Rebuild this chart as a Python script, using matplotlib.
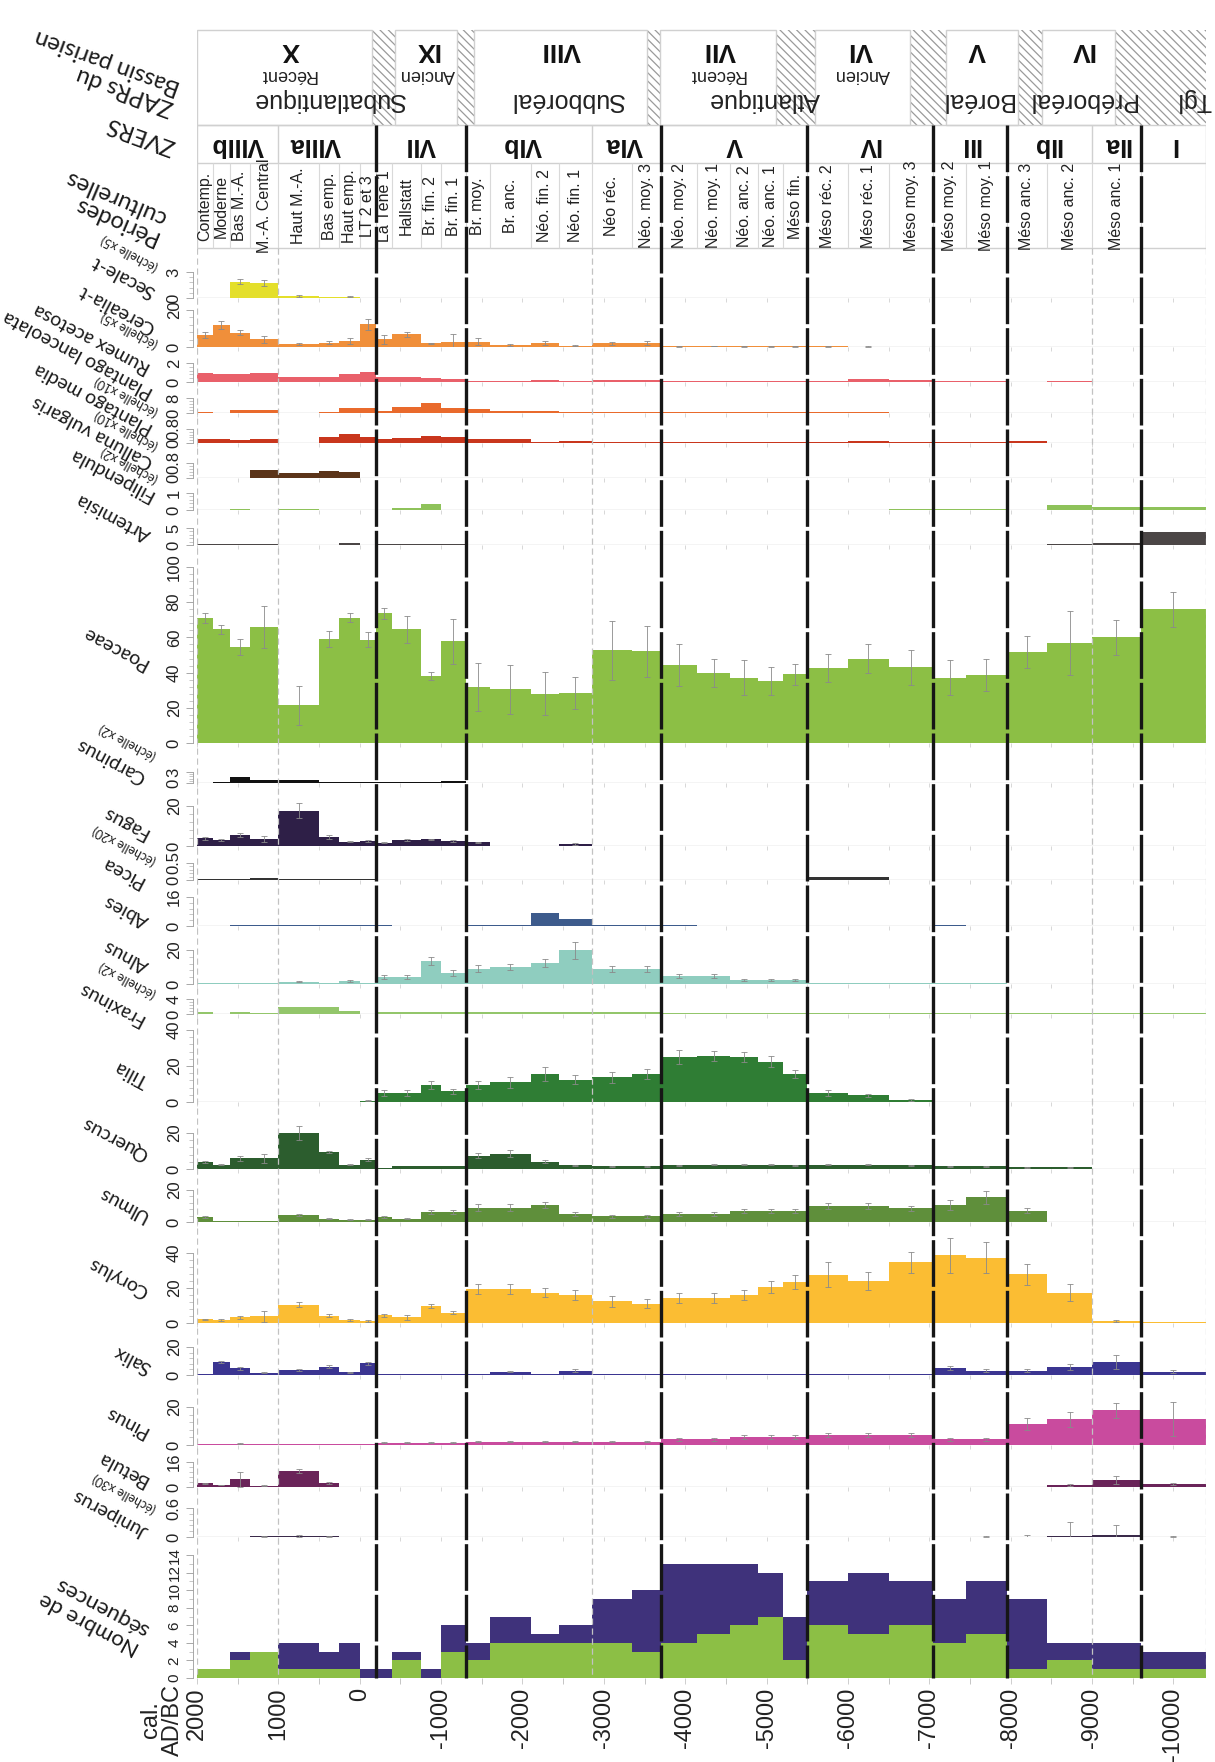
import matplotlib.pyplot as plt
from matplotlib.patches import Rectangle
import numpy as np

plt.rcParams['font.family'] = ['Liberation Sans', 'DejaVu Sans']
plt.rcParams['axes.unicode_minus'] = False
plt.rcParams['hatch.linewidth'] = 0.9
plt.rcParams['hatch.color'] = '#9a9a9a'

# ---- time bins (cal. AD/BC) and header data ----
edges = [2000, 1800, 1600, 1350, 1000, 500, 250, 0, -200, -400, -750, -1000, -1300,
         -1600, -2100, -2450, -2850, -3350, -3700, -4150, -4550, -4900, -5200, -5500,
         -6000, -6500, -7050, -7450, -7950, -8450, -9000, -9600, -10400]
periods = ['Contemp.', 'Moderne', 'Bas M.-A.', 'M.-A. Central', 'Haut M.-A.', 'Bas emp.',
           'Haut emp.', 'LT 2 et 3', 'La Tène 1', 'Hallstatt', 'Br. fin. 2', 'Br. fin. 1',
           'Br. moy.', 'Br. anc.', 'Néo. fin. 2', 'Néo. fin. 1', 'Néo réc.', 'Néo. moy. 3',
           'Néo. moy. 2', 'Néo. moy. 1', 'Néo. anc. 2', 'Néo. anc. 1', 'Méso fin.',
           'Méso réc. 2', 'Méso réc. 1', 'Méso moy. 3', 'Méso moy. 2', 'Méso moy. 1',
           'Méso anc. 3', 'Méso anc. 2', 'Méso anc. 1', '']
zvers = ['VIIIb', 'VIIIa', 'VII', 'VIb', 'VIa', 'V', 'IV', 'III', 'IIb', 'IIa', 'I']
zvers_pos = [1500, 550, -750, -2000, -3250, -4600, -6250, -7500, -8450, -9300, -10000]
zaprs = ['X', 'IX', 'VIII', 'VII', 'VI', 'V', 'IV']
zaprs_box = [(2000, -150), (-430, -1200), (-1400, -3530), (-3690, -5120),
             (-5590, -6760), (-7200, -8090), (-8390, -9280)]
zaprs_pos = [850, -830, -2480, -4420, -6150, -7580, -8870]
zaprs_sub = [('Récent', 880), ('Ancien', -830), ('Récent', -4390), ('Ancien', -6180)]
climate = [('Subatlantique', 380), ('Subboréal', -2550), ('Atlantique', -4970),
           ('Boréal', -7580), ('Préboréal', -8870), ('Tgl', -10260)]
black_lines = [-200, -1300, -3700, -5500, -7050, -7950, -9600]
gray_lines = [2000, 1000, -2850, -9000, -10400]

# ---- pollen values per bin ----
secale = [0, 0, 1.9, 1.7, 0.27, 0.15, 0.15, 0, 0, 0, 0, 0, 0, 0, 0, 0,
          0, 0, 0, 0, 0, 0, 0, 0, 0, 0, 0, 0, 0, 0, 0, 0]
secale_err = [0, 0, 0.25, 0.35, 0.12, 0, 0.05, 0, 0, 0, 0, 0, 0, 0, 0, 0,
              0, 0, 0, 0, 0, 0, 0, 0, 0, 0, 0, 0, 0, 0, 0, 0]
cerealia = [6.5, 11.9, 7.7, 4.1, 1.6, 2.3, 3.2, 12.4, 4.1, 6.8, 2.0, 2.9, 2.9, 1.0, 2.0, 0.8,
            2.0, 2.0, 0.5, 0.5, 0.5, 0.4, 0.4, 0.5, 0.2, 0, 0, 0, 0, 0, 0, 0]
cerealia_err = [1.6, 2.2, 1.4, 1.8, 0.5, 0.8, 1.5, 3.0, 2.3, 1.3, 0.3, 4.1, 1.7, 0.4, 1.0, 0.3,
                0.9, 1.0, 0.3, 0.2, 0.3, 0.2, 0.2, 0.3, 0.2, 0, 0, 0, 0, 0, 0, 0]
rumex = [0.98, 0.84, 0.84, 0.9, 0.56, 0.5, 0.84, 1.1, 0.56, 0.56, 0.39, 0.35, 0.14, 0.14, 0.25, 0.1,
         0.25, 0.25, 0.14, 0.15, 0.15, 0.15, 0.15, 0.15, 0.35, 0.2, 0.15, 0.15, 0.05, 0.1, 0.03, 0.03]
plantago_l = [0.7, 0.1, 1.6, 1.6, 0.2, 0.4, 2.5, 2.5, 1.1, 3.4, 5.5, 2.5, 2.1, 1.1, 1.1, 0.4,
              0.4, 0.4, 0.5, 0.8, 0.5, 0.5, 0.4, 0.3, 0.8, 0.2, 0.1, 0.1, 0.05, 0, 0, 0]
plantago_m = [0.21, 0.21, 0.17, 0.23, 0.02, 0.33, 0.51, 0.33, 0.23, 0.29, 0.42, 0.33, 0.23, 0.23, 0.06, 0.11,
              0.07, 0.07, 0.04, 0.06, 0.06, 0.06, 0.06, 0.06, 0.11, 0.06, 0.03, 0.03, 0.14, 0.02, 0.02, 0.02]
calluna = [0, 0, 0, 0.43, 0.25, 0.39, 0.34, 0, 0, 0, 0, 0, 0, 0, 0, 0,
           0, 0, 0, 0, 0, 0, 0, 0, 0, 0, 0, 0, 0, 0, 0, 0]
filipendula = [0.02, 0.02, 0.06, 0.02, 0.06, 0.02, 0.02, 0.02, 0, 0.1, 0.35, 0.02, 0, 0, 0, 0.02,
               0, 0, 0, 0.02, 0.02, 0, 0, 0, 0, 0.03, 0.03, 0.03, 0.02, 0.3, 0.2, 0.2]
artemisia = [0.15, 0.15, 0.15, 0.15, 0.1, 0.1, 0.7, 0.1, 0.3, 0.3, 0.3, 0.3, 0.1, 0.1, 0.1, 0.1,
             0.1, 0.1, 0.1, 0.1, 0.1, 0.1, 0.1, 0.1, 0.1, 0.1, 0.1, 0.1, 0.1, 0.3, 0.7, 3.7]
poaceae = [71, 64.5, 54.6, 65.7, 21.4, 59.2, 71.2, 58.8, 73.6, 64.5, 38, 57.7, 31.9, 30.5, 28.1, 28.5,
           52.6, 52, 44.4, 40, 37, 35, 39, 42.6, 48, 43, 37, 38.7, 51.6, 56.8, 60, 76]
poaceae_err = [2.8, 2.4, 4.7, 12, 11, 4.7, 2.6, 4.3, 3, 7.8, 2.4, 13, 13.7, 14, 12, 9,
               16.6, 14.6, 11.8, 8, 10, 8, 6, 8, 8, 10, 10, 9, 9, 18, 10, 10]
carpinus = [0, 0.35, 1.7, 0.8, 0.9, 0.2, 0.2, 0.2, 0.27, 0.27, 0.27, 0.46, 0.08, 0.08, 0.08, 0.08,
            0.08, 0.08, 0.08, 0.08, 0.08, 0.08, 0.08, 0.03, 0.03, 0.03, 0.03, 0.03, 0.03, 0.03, 0.03, 0.03]
fagus = [3.9, 3, 5.5, 3.5, 17.7, 4.4, 2.2, 2.5, 1.7, 3, 3.4, 2.7, 1.9, 0.15, 0.15, 1.0,
         0.15, 0.15, 0.1, 0.1, 0.1, 0.1, 0.1, 0.1, 0.05, 0.05, 0.05, 0.05, 0.05, 0.05, 0.05, 0.05]
fagus_err = [0.8, 0.4, 0.8, 1.7, 3.9, 1.0, 0.3, 0.5, 0.2, 0.3, 0.3, 0.5, 0.3, 0, 0, 0.3,
             0, 0, 0, 0, 0, 0, 0, 0, 0, 0, 0, 0, 0, 0, 0, 0]
picea = [0.015, 0.015, 0.015, 0.06, 0.015, 0.015, 0.015, 0.015, 0, 0, 0, 0, 0, 0, 0, 0,
         0, 0, 0, 0, 0, 0, 0, 0.08, 0.08, 0, 0, 0, 0, 0, 0, 0]
abies = [0, 0, 0.3, 0.3, 0.3, 0.3, 0.3, 0.3, 0.3, 0.2, 0.2, 0.2, 0.3, 0.3, 7.2, 3.9,
         0.5, 0.8, 0.3, 0.2, 0.2, 0.2, 0.2, 0.2, 0.2, 0.2, 0.3, 0.2, 0.1, 0, 0, 0]
alnus = [0.3, 0.3, 0.3, 0.3, 1.2, 0.3, 1.8, 0.3, 4.1, 4.1, 13.5, 6.5, 9, 10, 12.4, 20,
         8.8, 8.8, 4.7, 4.7, 2.4, 2.4, 2.4, 0.3, 0.3, 0.3, 0.3, 0.3, 0.2, 0.2, 0.2, 0.2]
alnus_err = [0, 0, 0, 0, 0.3, 0, 0.4, 0, 1.0, 1.0, 2.5, 1.5, 2.0, 2.0, 2.5, 5.0,
             2.0, 2.0, 1.0, 1.0, 0.6, 0.6, 0.6, 0, 0, 0, 0, 0, 0, 0, 0, 0]
fraxinus = [0.4, 0.1, 0.5, 0.15, 1.95, 1.95, 0.8, 0.1, 0.5, 0.5, 0.5, 0.5, 0.5, 0.5, 0.5, 0.5,
            0.5, 0.5, 0.3, 0.3, 0.3, 0.3, 0.3, 0.15, 0.15, 0.15, 0.15, 0.15, 0.15, 0.15, 0.15, 0.15]
tilia = [0.15, 0.15, 0.15, 0.15, 0.15, 0.15, 0.15, 0.6, 5, 5, 9.4, 6, 9.4, 11, 15.6, 12.5,
         13.8, 15.6, 25, 25.6, 25, 22.5, 15.6, 5, 3.7, 1.2, 0, 0, 0, 0, 0, 0]
tilia_err = [0, 0, 0, 0, 0, 0, 0, 0.3, 1.5, 1.5, 2.0, 1.5, 2.0, 3.0, 4.0, 2.5,
             3.0, 3.0, 4.0, 3.0, 3.0, 3.0, 2.0, 1.5, 1.0, 0.5, 0, 0, 0, 0, 0, 0]
quercus = [4, 2.4, 6, 6, 20, 9.3, 2.4, 5.2, 0.6, 1.5, 1.5, 1.5, 7.5, 8.5, 4, 2,
           1.5, 1.5, 2, 2.5, 2.5, 2.5, 2, 2.5, 2.5, 2, 1.5, 1.5, 1, 1, 0, 0]
quercus_err = [0.6, 0.3, 1.4, 2.6, 3.8, 0.6, 0.4, 0.8, 0, 0, 0, 0, 1.5, 2.0, 0.8, 0.5,
               0.4, 0.4, 0.5, 0.5, 0.5, 0.5, 0.5, 0.5, 0.5, 0.5, 0.4, 0.4, 0.3, 0.3, 0, 0]
ulmus = [2.9, 0.6, 0.6, 0.6, 4.4, 2, 1.5, 1.5, 3.1, 2, 6, 6, 9, 9, 10.5, 5,
         3.5, 3.5, 5, 5, 7, 7, 7, 9.8, 9.8, 8.5, 10.5, 15.4, 7, 0, 0, 0]
ulmus_err = [0.6, 0, 0, 0, 0.6, 0.4, 0.4, 0.4, 0.6, 0.4, 1.2, 1.2, 2.0, 2.0, 2.0, 1.0,
             0.8, 0.8, 1.0, 1.0, 1.3, 1.3, 1.3, 1.8, 1.8, 1.6, 3.0, 4.0, 1.5, 0, 0, 0]
corylus = [2.1, 1.7, 3.2, 3.8, 10.5, 4.2, 1.9, 1, 4.5, 3.2, 9.7, 5.8, 19.4, 19.4, 17.4, 16.1,
           12.3, 11, 14.2, 14.2, 16, 20.6, 23.2, 27.7, 23.9, 34.8, 38.7, 37.4, 28, 17.4, 1.3, 0.3]
corylus_err = [0.4, 0.4, 0.8, 3.0, 1.5, 0.8, 0.5, 0.5, 0.8, 1.5, 1.3, 0.8, 3.0, 3.0, 2.5, 3.0,
               3.0, 2.5, 3.0, 3.0, 3.0, 3.5, 4.0, 7.0, 5.0, 6.0, 10.0, 9.0, 6.0, 5.0, 0.5, 0]
salix = [0.5, 9, 4.8, 1.7, 3.6, 6, 1.9, 8.3, 0.5, 0.5, 0.5, 0.5, 0.5, 2.4, 0.8, 3.2,
         0.5, 0.5, 0.5, 0.5, 0.5, 0.5, 0.5, 0.8, 0.8, 0.8, 4.8, 3.2, 3.2, 5.6, 9.6, 2.4]
salix_err = [0, 0.7, 1.2, 0.5, 0.6, 1.0, 0.4, 1.0, 0, 0, 0, 0, 0, 0.6, 0, 0.8,
             0, 0, 0, 0, 0, 0, 0, 0, 0, 0, 1.5, 1.0, 1.0, 2.0, 5.0, 1.0]
pinus = [0.3, 0.3, 0.6, 0.3, 0.3, 0.3, 0.3, 0.3, 1.2, 1.2, 1.2, 1.2, 1.8, 1.8, 1.8, 1.8,
         1.8, 1.8, 2.9, 2.9, 4.1, 4.1, 4.1, 5.3, 5.3, 5.3, 2.9, 2.9, 11, 13.5, 18.2, 13.5]
pinus_err = [0, 0, 0.3, 0, 0, 0, 0, 0, 0.3, 0.3, 0.3, 0.3, 0.4, 0.4, 0.4, 0.4,
             0.4, 0.4, 0.8, 0.8, 1.0, 1.0, 1.0, 1.2, 1.2, 1.2, 0.8, 0.8, 3.0, 4.0, 4.0, 9.0]
betula = [2.4, 1.3, 4.9, 0.8, 10.4, 2.4, 0.3, 0.3, 0.3, 0.3, 0.3, 0.3, 0.3, 0.3, 0.3, 0.3,
          0.3, 0.3, 0.3, 0.3, 0.3, 0.3, 0.3, 0.3, 0.3, 0.3, 0.3, 0.3, 0.3, 1.3, 4.3, 2.2]
betula_err = [0.4, 0.3, 5.0, 0.2, 1.2, 0.5, 0, 0, 0, 0, 0, 0, 0, 0, 0, 0,
              0, 0, 0, 0, 0, 0, 0, 0, 0, 0, 0, 0, 0, 0.6, 2.5, 0.6]
juniperus = [0, 0, 0, 0.02, 0.02, 0.02, 0, 0, 0, 0, 0, 0, 0, 0, 0, 0,
             0, 0, 0, 0, 0, 0, 0, 0, 0, 0, 0.01, 0.01, 0.01, 0.02, 0.04, 0.01]
juniperus_err = [0, 0, 0, 0.01, 0.02, 0.01, 0, 0, 0, 0, 0, 0, 0, 0, 0, 0,
                 0, 0, 0, 0, 0, 0, 0, 0, 0, 0, 0, 0.01, 0.04, 0.3, 0.2, 0.02]
seq_total = [1, 1, 3, 3, 4, 3, 4, 1, 1, 3, 1, 6, 4, 7, 5, 6,
             9, 10, 13, 13, 13, 12, 7, 11, 12, 11, 9, 11, 9, 4, 4, 3]
seq_green = [1, 1, 2, 3, 1, 1, 1, 0, 0, 2, 0, 3, 2, 4, 4, 4,
             4, 3, 4, 5, 6, 7, 2, 6, 5, 6, 4, 5, 1, 2, 1, 1]
x_ticks = list(range(2000, -10001, -1000))

# ---- layout (pixels of the 1215 x 1762 canvas) ----
W, H = 1215, 1762
XL, XR = 197, 1206
YR = (2000, -10400)

fig = plt.figure(figsize=(W / 100, H / 100), dpi=100)


def box(top, bottom):
    return [XL / W, 1 - bottom / H, (XR - XL) / W, (bottom - top) / H]


centers = [(a + b) / 2 for a, b in zip(edges[:-1], edges[1:])]
widths = [a - b for a, b in zip(edges[:-1], edges[1:])]

# name, note, values, errors, colour, top, base, major ticks, px of top tick, label xy, note xy
panels = [
    ('Secale-t', '(échelle x5)', secale, secale_err, '#e4df2b', 250, 298, [0, 3], 272, (154, 293), (157, 268)),
    ('Cerealia-t', None, cerealia, cerealia_err, '#f08f3a', 300, 347, [0, 20], 310, (154, 329), None),
    ('Rumex acetosa', '(échelle x5)', rumex, None, '#e9606a', 349, 382, [0, 2], 363, (149, 369), (157, 345)),
    ('Plantago lanceolata', None, plantago_l, None, '#e96a2c', 384, 413, [0, 8], 398, (152, 394), None),
    ('Plantago media', '(échelle x10)', plantago_m, None, '#c9361d', 415, 443, [0, 0.8], 429, (152, 430), (157, 413)),
    ('Calluna vulgaris', '(échelle x10)', calluna, None, '#5b3419', 445, 478, [0, 0.8], 463, (152, 464), (157, 447)),
    ('Filipendula', '(échelle x2)', filipendula, None, '#8ec25a', 480, 510, [0, 1], 493, (152, 497), (157, 480)),
    ('Artemisia', None, artemisia, None, '#4b4646', 512, 545, [0, 5], 528, (149, 536), None),
    ('Poaceae', None, poaceae, poaceae_err, '#8cbf45', 548, 743, [0, 20, 40, 60, 80, 100], 567, (147, 665), None),
    ('Carpinus', '(échelle x2)', carpinus, None, '#111111', 746, 783, [0, 3], 772, (144, 779), (155, 757)),
    ('Fagus', None, fagus, fagus_err, '#2e1f47', 786, 846, [0, 20], 806, (147, 835), None),
    ('Picea', '(échelle x20)', picea, None, '#333333', 848, 880, [0, 0.5], 863, (143, 883), (155, 862)),
    ('Abies', None, abies, None, '#3d5b8c', 882, 926, [0, 16], 897, (147, 922), None),
    ('Alnus', None, alnus, alnus_err, '#8fcdbf', 928, 984, [0, 20], 950, (147, 967), None),
    ('Fraxinus', '(échelle x2)', fraxinus, None, '#93c66b', 986, 1014, [0, 4], 999, (143, 1021), (155, 995)),
    ('Tilia', None, tilia, tilia_err, '#2f7d34', 1016, 1102, [0, 20, 40], 1030, (147, 1082), None),
    ('Quercus', None, quercus, quercus_err, '#2c5d2e', 1104, 1169, [0, 20], 1133, (147, 1156), None),
    ('Ulmus', None, ulmus, ulmus_err, '#5f8f3b', 1171, 1222, [0, 20], 1190, (147, 1217), None),
    ('Corylus', None, corylus, corylus_err, '#fbbd33', 1224, 1323, [0, 20, 40], 1253, (147, 1293), None),
    ('Salix', None, salix, salix_err, '#3b3591', 1325, 1375, [0, 20], 1347, (150, 1369), None),
    ('Pinus', None, pinus, pinus_err, '#c94b9e', 1377, 1445, [0, 20], 1407, (147, 1433), None),
    ('Betula', None, betula, betula_err, '#6a2459', 1447, 1487, [0, 16], 1462, (147, 1482), None),
    ('Juniperus', '(échelle x30)', juniperus, juniperus_err, '#3a2a4a', 1489, 1537, [0, 0.6], 1508, (147, 1533), (155, 1510)),
]

TAXON_FONT = ['Lato', 'DejaVu Sans']
ROT = 152


def fmt(v):
    return ('%g' % v)


def style_axis(ax, ticks, ymax, minor_n=5, lsize=12):
    ax.set_xlim(*YR)
    ax.set_ylim(0, ymax)
    for s in ('top', 'right', 'bottom'):
        ax.spines[s].set_visible(False)
    ax.spines['left'].set_bounds(0, ticks[-1])
    ax.spines['left'].set_position(('outward', 3))
    ax.spines['left'].set_color('#9a9a9a')
    ax.spines['left'].set_linewidth(0.6)
    ax.set_yticks(ticks)
    ax.set_yticklabels([fmt(t) for t in ticks])
    step = ticks[1] - ticks[0]
    ax.set_yticks(np.arange(0, ticks[-1] + 1e-9, step / minor_n), minor=True)
    ax.tick_params(axis='y', which='major', length=5, width=0.6, color='#9a9a9a',
                   labelsize=lsize, labelrotation=90, pad=3, labelcolor='#222222')
    ax.tick_params(axis='y', which='minor', length=3, width=0.5, color='#b0b0b0')
    for lab in ax.get_yticklabels():
        lab.set_va('center')
    ax.set_xticks(list(range(2000, -10401, -500)))
    ax.tick_params(axis='x', which='major', length=3, width=0.5, color='#c8c8c8',
                   labelbottom=False)
    ax.axhline(0, color='#c8c8c8', lw=1.0, zorder=1)
    ax.patch.set_alpha(0)


for name, note, vals, errs, col, top, base, ticks, tpx, lab, nxy in panels:
    ax = fig.add_axes(box(top, base))
    ymax = ticks[-1] * (base - top) / (base - tpx)
    ax.bar(centers, vals, width=widths, color=col, lw=0, zorder=2)
    if errs is not None:
        idx = [i for i, e in enumerate(errs) if e > 0]
        ax.errorbar([centers[i] for i in idx], [vals[i] for i in idx],
                    yerr=[errs[i] for i in idx], fmt='none', ecolor='#8a8a8a',
                    elinewidth=0.6, capsize=2, capthick=0.6, zorder=3)
    style_axis(ax, ticks, ymax)
    fig.text(lab[0] / W, 1 - lab[1] / H, name, rotation=ROT, rotation_mode='anchor',
             ha='left', va='center', fontsize=14, family=TAXON_FONT, color='#1a1a1a')
    if note:
        fig.text(nxy[0] / W, 1 - nxy[1] / H, note, rotation=ROT, rotation_mode='anchor',
                 ha='left', va='center', fontsize=9, family=TAXON_FONT, color='#1a1a1a')

# number of sequences
ax = fig.add_axes(box(1545, 1678))
ax.bar(centers, seq_total, width=widths, color='#3f327b', lw=0, zorder=2)
ax.bar(centers, seq_green, width=widths, color='#8cbf45', lw=0, zorder=3)
style_axis(ax, list(range(0, 15, 2)), 14 * (1678 - 1545) / (1678 - 1555), minor_n=2, lsize=11)
ax.set_xticks(x_ticks)
ax.set_xticks(list(range(2000, -10401, -500)), minor=True)
ax.tick_params(axis='x', which='both', length=4, color='#bbbbbb', labelbottom=True,
               labelsize=17, labelrotation=90, pad=3, labelcolor='#222222')
for lab in ax.get_xticklabels():
    lab.set_ha('center')
    lab.set_va('top')
fig.text(143 / W, 1 - 1640 / H, 'Nombre de\nséquences', rotation=ROT, rotation_mode='anchor',
         ha='left', va='center', fontsize=16, family=TAXON_FONT, color='#1a1a1a',
         linespacing=1.0)
fig.text(162 / W, 1 - 1720 / H, 'cal.\nAD/BC', rotation=90, ha='center', va='center',
         fontsize=17, color='#222222', linespacing=1.0)

# ---- header ----
hx = fig.add_axes([XL / W, 1 - 250 / H, (XR - XL) / W, 222 / H])
hx.set_xlim(*YR)
hx.set_ylim(250, 28)
hx.axis('off')
hatch_spans = [(zaprs_box[i][1], zaprs_box[i + 1][0]) for i in range(len(zaprs_box) - 1)]
hatch_spans.append((zaprs_box[-1][1], -10400))
for a, b in hatch_spans:
    hx.add_patch(Rectangle((a, 30), b - a, 95, facecolor='white', edgecolor='#9a9a9a',
                           hatch='\\\\\\\\', lw=0))
for a, b in zaprs_box:
    hx.add_patch(Rectangle((a, 30), b - a, 95, facecolor='white', edgecolor='#d0d0d0', lw=1))
hx.hlines([125, 163, 248], 2000, -10400, color='#d0d0d0', lw=1)
hx.vlines([1000, -2850, -9000], 125, 163, color='#d0d0d0', lw=1)
hx.vlines(edges[1:-1], 163, 248, color='#d9d9d9', lw=0.8)
hx.vlines([2000, -10400], 125, 248, color='#d0d0d0', lw=1)

for lab, x in zip(zaprs, zaprs_pos):
    hx.text(x, 50, lab, rotation=180, ha='center', va='center', fontsize=19,
            fontweight='bold', color='#111111')
for lab, x in zaprs_sub:
    hx.text(x, 75, lab, rotation=180, ha='center', va='center', fontsize=13, color='#222222')
for lab, x in climate:
    hx.text(x, 100, lab, rotation=180, ha='center', va='center', fontsize=18, color='#222222')
for lab, x in zip(zvers, zvers_pos):
    hx.text(x, 145, lab, rotation=180, ha='center', va='center', fontsize=18,
            fontweight='bold', color='#111111')
for lab, x in zip(periods, centers):
    hx.text(x, 206, lab, rotation=90, ha='center', va='center', fontsize=11.5,
            family=['Liberation Sans Narrow', 'Liberation Sans'], color='#222222')

fig.text(176 / W, 1 - 98 / H, 'ZAPRs du\nBassin parisien', rotation=160, rotation_mode='anchor',
         ha='left', va='center', fontsize=17, family=TAXON_FONT, color='#1a1a1a',
         linespacing=1.0)
fig.text(174 / W, 1 - 147 / H, 'ZVERS', rotation=160, rotation_mode='anchor',
         ha='left', va='center', fontsize=17, family=TAXON_FONT, color='#1a1a1a')
fig.text(160 / W, 1 - 228 / H, 'Périodes\nculturelles', rotation=157, rotation_mode='anchor',
         ha='left', va='center', fontsize=17, family=TAXON_FONT, color='#1a1a1a',
         linespacing=1.0)

# ---- vertical boundary lines across everything ----
ov = fig.add_axes([XL / W, 0, (XR - XL) / W, 1])
ov.set_xlim(*YR)
ov.set_ylim(H, 0)
ov.axis('off')
ov.vlines(gray_lines, 248, 1678, colors='#c2c2c2', lw=0.9, linestyles=(0, (5, 3)))
ov.vlines(black_lines, 125, 1678, colors='#161616', lw=2.4, linestyles=(0, (14, 1.2)))

fig.savefig('out.png', dpi=100)
